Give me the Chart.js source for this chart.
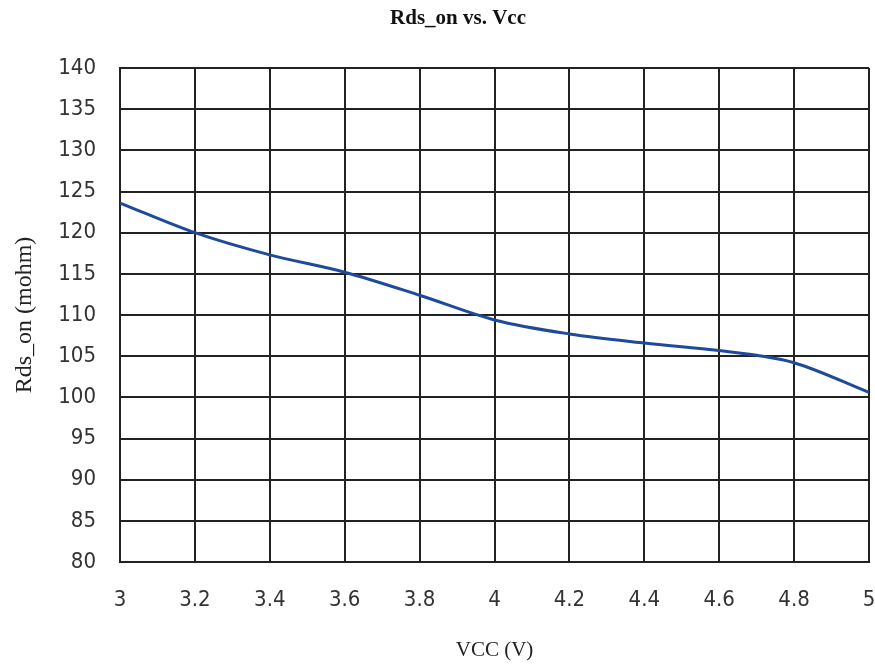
<!DOCTYPE html>
<html>
<head>
<meta charset="utf-8">
<script src="https://cdn.jsdelivr.net/npm/chart.js@4"></script>
<style>
html,body{margin:0;padding:0;background:#fff;}
#wrap{width:875px;height:670px;position:relative;}
</style>
</head>
<body>
<div id="wrap"><canvas id="c" width="875" height="670"></canvas></div>
<script>
const chartTitle = 'Rds_on vs. Vcc';
const xTitle = 'VCC (V)';
const yTitle = 'Rds_on (mohm)';
const vcc = [3.0, 3.2, 3.4, 3.6, 3.8, 4.0, 4.2, 4.4, 4.6, 4.7, 4.8, 5.0];
const rdsOn = [123.6, 120.0, 117.3, 115.2, 112.4, 109.4, 107.7, 106.6, 105.7, 105.1, 104.2, 100.6];
const xTickLabels = ['3', '3.2', '3.4', '3.6', '3.8', '4', '4.2', '4.4', '4.6', '4.8', '5'];
const yTickLabels = ['80', '85', '90', '95', '100', '105', '110', '115', '120', '125', '130', '135', '140'];

const points = vcc.map((v, i) => ({x: v, y: rdsOn[i]}));

const titlePlugin = {
  id: 'customTitle',
  afterDraw(chart) {
    const ctx = chart.ctx;
    ctx.save();
    ctx.font = 'bold 21px "Liberation Serif", "DejaVu Serif", serif';
    ctx.fillStyle = '#111';
    ctx.textAlign = 'center';
    ctx.textBaseline = 'middle';
    ctx.fillText(chartTitle, 458, 19);
    ctx.restore();
  }
};

const tickFont = {family: '"Liberation Sans Narrow", "DejaVu Sans Condensed", "DejaVu Sans", sans-serif', size: 22};
const serifFont = '"Liberation Serif", "DejaVu Serif", serif';

new Chart(document.getElementById('c'), {
  type: 'line',
  data: {
    datasets: [{
      data: points,
      borderColor: '#1d4a9b',
      borderWidth: 3,
      pointRadius: 0,
      tension: 0.4,
      cubicInterpolationMode: 'monotone',
      fill: false
    }]
  },
  options: {
    responsive: false,
    animation: false,
    devicePixelRatio: 1,
    layout: {padding: {left: 0, right: 6, top: 68, bottom: 0}},
    plugins: {legend: {display: false}, tooltip: {enabled: false}, title: {display: false}},
    scales: {
      x: {
        type: 'linear',
        min: 3, max: 5,
        ticks: {
          stepSize: 0.2,
          autoSkip: false,
          maxRotation: 0,
          padding: 25,
          color: '#333',
          font: tickFont,
          callback: (v, i) => xTickLabels[i]
        },
        grid: {color: '#222', lineWidth: 2, drawTicks: false},
        border: {color: '#222', width: 2},
        title: {display: true, text: xTitle, color: '#222', padding: {top: 0, bottom: 7},
          font: {family: serifFont, size: 21}},
        afterFit(scale) { scale.height = 108; scale.paddingRight = 0; scale.paddingLeft = 0; }
      },
      y: {
        min: 80, max: 140,
        ticks: {
          stepSize: 5,
          autoSkip: false,
          padding: 24,
          color: '#333',
          font: tickFont,
          callback: (v, i) => yTickLabels[i]
        },
        grid: {color: '#222', lineWidth: 2, drawTicks: false},
        border: {color: '#222', width: 2},
        title: {display: true, text: yTitle, color: '#222', padding: {top: 10, bottom: 0},
          font: {family: serifFont, size: 24}},
        afterFit(scale) { scale.width = 120; scale.paddingTop = 0; scale.paddingBottom = 0; }
      }
    }
  },
  plugins: [titlePlugin]
});
</script>
</body>
</html>
